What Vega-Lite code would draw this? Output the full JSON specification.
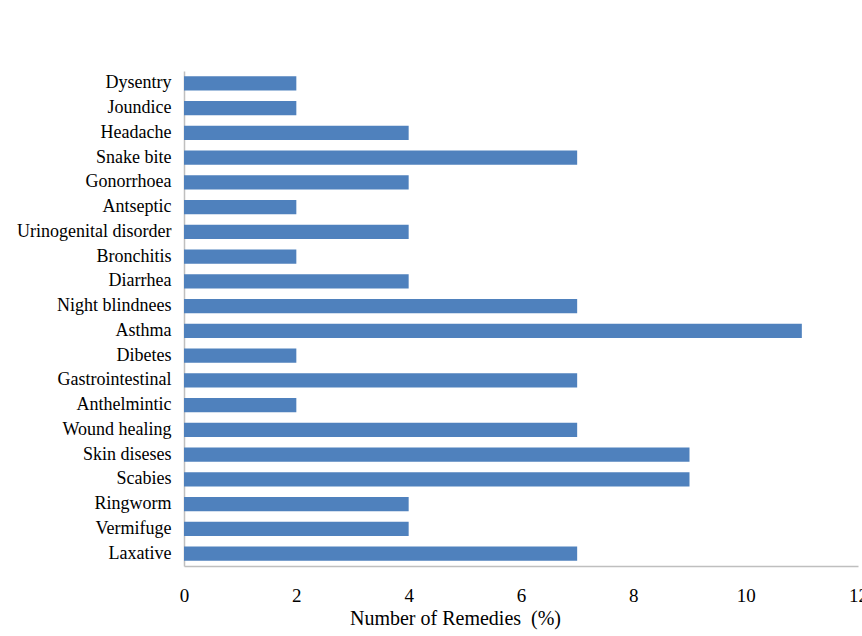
{
  "$schema": "https://vega.github.io/schema/vega-lite/v6.json",
  "width": 674,
  "height": 495,
  "autosize": {"type": "none"},
  "padding": {"left": 184, "top": 71, "right": 4, "bottom": 70},
  "background": "white",
  "config": {"view": {"stroke": null}, "font": "Liberation Serif"},
  "data": {
    "values": [
      {"use": "Dysentry", "value": 2},
      {"use": "Joundice", "value": 2},
      {"use": "Headache", "value": 4},
      {"use": "Snake bite", "value": 7},
      {"use": "Gonorrhoea", "value": 4},
      {"use": "Antseptic", "value": 2},
      {"use": "Urinogenital disorder", "value": 4},
      {"use": "Bronchitis", "value": 2},
      {"use": "Diarrhea", "value": 4},
      {"use": "Night blindnees", "value": 7},
      {"use": "Asthma", "value": 11},
      {"use": "Dibetes", "value": 2},
      {"use": "Gastrointestinal", "value": 7},
      {"use": "Anthelmintic", "value": 2},
      {"use": "Wound healing", "value": 7},
      {"use": "Skin diseses", "value": 9},
      {"use": "Scabies", "value": 9},
      {"use": "Ringworm", "value": 4},
      {"use": "Vermifuge", "value": 4},
      {"use": "Laxative", "value": 7}
    ]
  },
  "mark": {"type": "bar", "color": "#4F81BD"},
  "encoding": {
    "y": {
      "field": "use",
      "type": "nominal",
      "sort": null,
      "scale": {"paddingInner": 0.42, "paddingOuter": 0.21},
      "axis": {
        "title": null,
        "ticks": false,
        "domainColor": "#BFBFBF",
        "domainWidth": 1.5,
        "labelFont": "Liberation Serif",
        "labelFontSize": 18,
        "labelColor": "#000000",
        "labelPadding": 13,
        "labelLimit": 0
      }
    },
    "x": {
      "field": "value",
      "type": "quantitative",
      "scale": {"domain": [0, 12], "nice": false},
      "axis": {
        "title": "Number of Remedies \u00a0(%)",
        "values": [0, 2, 4, 6, 8, 10, 12],
        "grid": false,
        "ticks": false,
        "domainColor": "#BFBFBF",
        "domainWidth": 1.5,
        "labelFont": "Liberation Serif",
        "labelFontSize": 19,
        "labelColor": "#000000",
        "labelPadding": 20,
        "labelFlush": false,
        "titleFont": "Liberation Serif",
        "titleFontSize": 20,
        "titleFontWeight": "normal",
        "titleColor": "#000000",
        "titlePadding": 3,
        "titleX": 271,
        "titleAlign": "center"
      }
    }
  }
}
